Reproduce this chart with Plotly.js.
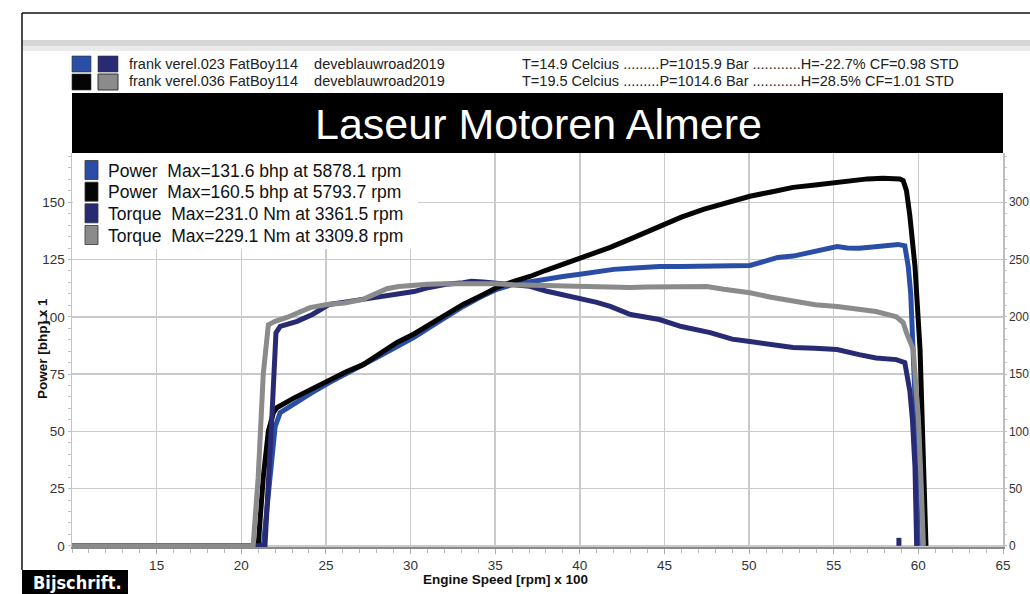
<!DOCTYPE html>
<html>
<head>
<meta charset="utf-8">
<script src="https://cdn.plot.ly/plotly-3.0.1.min.js"></script>
<style>
html,body{margin:0;padding:0;background:#fff;}
#chart{width:1030px;height:594px;}
</style>
</head>
<body>
<div id="chart"></div>
<script>
// ---------------- DATA ----------------
// Run 1 (frank verel.023) power, bhp vs rpm x 100
const rpmPower1 = [10, 21.3, 21.7, 22.0, 22.3, 23.2, 24.2, 25.2, 26.2, 27.2, 28.2, 29.2, 30.2, 31.1, 32.1, 33.1, 34.1, 35.1, 36.0, 37.05, 38.0, 39.0, 40.0, 41.0, 42.0, 43.0, 44.7, 46.0, 47.7, 49.0, 50.05, 50.8, 51.7, 52.6, 53.6, 54.4, 55.2, 55.8, 56.5, 57.3, 58.0, 58.5, 58.8, 59.2, 59.4, 59.55, 59.7, 59.8, 59.9, 60.0];
const power1    = [0, 0, 30, 52, 58.2, 62.5, 67, 71.3, 75, 79.1, 83, 87, 91, 95.3, 100, 104.5, 108.5, 112, 114, 115.4, 116.8, 117.6, 118.6, 119.8, 120.7, 121.2, 122, 122, 122, 122.2, 122.4, 124, 125.9, 126.5, 128.1, 129, 130.7, 130, 129.9, 130.5, 130.8, 131.2, 131.6, 131, 122, 110, 85, 65, 30, 0];

// Run 2 (frank verel.036) power, bhp
const rpmPower2 = [10, 21.0, 21.3, 21.6, 21.9, 22.1, 23.1, 24.2, 25.2, 26.2, 27.2, 28.2, 29.2, 30.2, 31.1, 32.1, 33.1, 34.1, 35.1, 36.1, 37.05, 38.0, 39.0, 40.0, 41.0, 41.8, 43.0, 44.7, 46.0, 47.3, 48.7, 50.05, 51.3, 52.6, 53.9, 55.2, 56.1, 57.0, 57.9, 58.5, 58.9, 59.1, 59.3, 59.5, 59.8, 60.1, 60.3, 60.45];
const power2    = [0, 0, 30, 50, 58.2, 60.3, 64.5, 68.5, 72.6, 76, 79.1, 84, 88.8, 92.5, 96.6, 101, 105.4, 109, 112.8, 115.5, 117.6, 120.3, 122.9, 125.5, 128.1, 130.3, 134, 139.5, 143.5, 146.9, 150, 152.6, 154.5, 156.5, 157.5, 158.7, 159.8, 160.2, 160.5, 160.4, 160.2, 159.5, 155, 143.9, 122, 85.7, 42, 0];

// Run 1 torque, Nm
const rpmTorque1 = [10, 21.4, 21.8, 22.05, 22.3, 23.3, 24.2, 25.2, 26.2, 27.2, 28.2, 29.2, 30.2, 31.1, 32.1, 33.1, 33.6, 34.3, 35.1, 36.0, 37.05, 38.0, 39.0, 40.0, 41.0, 41.8, 43.0, 44.7, 46.0, 47.7, 49.0, 50.05, 51.3, 52.6, 53.9, 55.2, 56.5, 57.5, 58.7, 59.2, 59.5, 59.65, 59.8, 59.9];
const torque1    = [0, 0, 110, 186, 191.6, 196, 202, 210.8, 213, 215.2, 217, 219.4, 222, 225.6, 228.4, 229.8, 231.0, 230.4, 229.5, 228, 226.6, 222.5, 219.4, 215.5, 212.6, 209, 202, 197.6, 191.5, 186.2, 180.5, 178.4, 175.5, 173.2, 172.5, 171.4, 167, 164, 162.6, 160, 135, 110, 69, 0];
// small stray piece of run 1 torque near the end of the run
const rpmTorque1Tail = [58.85, 58.85];
const torque1Tail    = [0, 7];

// Run 2 torque, Nm
const rpmTorque2 = [10, 20.7, 21.0, 21.3, 21.6, 22.0, 22.7, 23.4, 24.06, 25.06, 26.1, 27.2, 28.0, 28.6, 29.3, 29.96, 31.0, 32.0, 33.1, 34.0, 35.0, 36.05, 37.0, 38.0, 39.0, 40.0, 41.0, 42.0, 42.96, 44.0, 45.0, 46.0, 47.5, 48.5, 50.05, 51.3, 52.6, 53.9, 55.2, 56.3, 57.5, 58.7, 59.1, 59.3, 59.7, 59.85, 60.0, 60.15, 60.3];
const torque2    = [0, 0, 60, 150, 193, 196, 199.4, 204, 208, 210.8, 212, 215.2, 220, 224.5, 226.5, 227.5, 228.4, 228.8, 229.1, 229, 228.8, 228, 227.6, 227, 226.6, 226.2, 226, 225.4, 225.6, 226, 226.4, 226.6, 226.4, 224, 221, 217, 213.4, 210.5, 209, 207, 204.6, 200, 195, 186, 171.4, 140, 112, 60, 0];

// Tick labels
const xTickVals  = [15, 20, 25, 30, 35, 40, 45, 50, 55, 60, 65];
const yTickVals  = [0, 25, 50, 75, 100, 125, 150];
const y2TickVals = [0, 50, 100, 150, 200, 250, 300];

// Texts
const chartTitle = "Laseur Motoren Almere";
const runNames = ["frank verel.023 FatBoy114\u00a0\u00a0\u00a0\u00a0deveblauwroad2019",
                  "frank verel.036 FatBoy114\u00a0\u00a0\u00a0\u00a0deveblauwroad2019"];
const runConditions = ["T=14.9 Celcius .........P=1015.9 Bar ............H=-22.7% CF=0.98 STD",
                       "T=19.5 Celcius .........P=1014.6 Bar ............H=28.5% CF=1.01 STD"];
const legendLabels = ["Power\u00a0\u00a0Max=131.6 bhp at 5878.1 rpm",
                      "Power\u00a0\u00a0Max=160.5 bhp at 5793.7 rpm",
                      "Torque\u00a0\u00a0Max=231.0 Nm at 3361.5 rpm",
                      "Torque\u00a0\u00a0Max=229.1 Nm at 3309.8 rpm"];
const xTitle = "Engine Speed [rpm] x 100";
const yTitle = "Power [bhp] x 1";
const caption = "Bijschrift.";

// ---------------- STYLE ----------------
const C = {blue:'#2a4ea6', navy:'#282a74', black:'#050505', gray:'#8b8b8b'};
const legendColors = [C.blue, C.black, C.navy, C.gray];
const FONT = 'Liberation Sans, Arial, Helvetica, sans-serif';

// Page geometry (pixels) -> paper coords
const L = 72, R = 1003, T = 153, B = 547;
const px = p => (p - L) / (R - L);
const py = p => (B - p) / (B - T);

function rect(x0, y0, x1, y1, fill, layer, lineColor, lineWidth) {
  return {type:'rect', xref:'paper', yref:'paper', x0:px(x0), x1:px(x1), y0:py(y1), y1:py(y0),
          fillcolor:fill, line:{color:lineColor||fill, width:lineWidth||0}, layer:layer||'above'};
}
function line(x0, y0, x1, y1, color, width) {
  return {type:'line', xref:'paper', yref:'paper', x0:px(x0), x1:px(x1), y0:py(y0), y1:py(y1),
          line:{color:color, width:width}, layer:'above'};
}
function text(t, x, y, opts) {
  return Object.assign({text:t, xref:'paper', yref:'paper', x:px(x), y:py(y), showarrow:false,
          xanchor:'left', yanchor:'middle', font:{family:FONT, size:14.5, color:'#222'}}, opts||{});
}

const shapes = [
  line(22, 13, 1030, 13, '#111', 1.5),
  line(22, 13, 22, 570, '#111', 1.5),
  rect(22, 40, 1030, 46, '#d6d6d6', 'below'),
  rect(22, 46, 1030, 51, '#eaeaea', 'below'),
  // run swatches
  rect(72, 56, 91, 72, C.blue, 'above', '#333', 0.6),
  rect(98, 56, 118, 72, C.navy, 'above', '#333', 0.6),
  rect(72, 74, 91, 90, C.black, 'above', '#333', 0.6),
  rect(98, 74, 118, 90, C.gray, 'above', '#333', 1),
  // title bar
  rect(L, 93, R, T, '#000', 'below'),
  // legend box
  rect(L + 1, T, 418, 249, '#ffffff', 'above'),
  // caption box
  rect(22, 570, 128, 594, '#000', 'above')
];
const legendRowY = [170, 191.7, 213.3, 235];
legendLabels.forEach((s, i) => {
  shapes.push(rect(85, legendRowY[i] - 9.5, 98, legendRowY[i] + 9.5, legendColors[i], 'above', '#333', 0.8));
});

const annotations = [
  text(runNames[0], 127, 64),
  text(runNames[1], 127, 81.5),
  text(runConditions[0], 520, 64),
  text(runConditions[1], 520, 81.5),
  text(chartTitle, 538.5, 124, {xanchor:'center', font:{family:FONT, size:43, color:'#ffffff'}}),
  text(yTitle, 42, 349, {xanchor:'center', textangle:-90, font:{family:FONT, size:13.5, color:'#111', weight:'bold'}}),
  text(xTitle, 505, 579, {xanchor:'center', font:{family:FONT, size:13.5, color:'#111', weight:'bold'}}),
  text(caption, 77, 582, {xanchor:'center', font:{family:'Liberation Sans Narrow, DejaVu Sans Condensed, Arial Narrow, sans-serif', size:18, color:'#ffffff', weight:'bold'}})
];
legendLabels.forEach((s, i) => {
  annotations.push(text(s, 106, legendRowY[i] + 0.5, {font:{family:FONT, size:17.5, color:'#111'}}));
});

function lineTrace(x, y, color, axis) {
  return {x:x, y:y, yaxis:axis, type:'scatter', mode:'lines', hoverinfo:'skip', showlegend:false,
          line:{color:color, width:5, shape:'linear'}};
}
const traces = [
  lineTrace(rpmPower1, power1, C.blue, 'y'),
  lineTrace(rpmPower2, power2, C.black, 'y'),
  lineTrace(rpmTorque1, torque1, C.navy, 'y2'),
  lineTrace(rpmTorque1Tail, torque1Tail, C.navy, 'y2'),
  lineTrace(rpmTorque2, torque2, C.gray, 'y2')
];

const tickFont = {family:FONT, size:13.5, color:'#333'};
const layout = {
  width:1030, height:594,
  margin:{l:L, r:1030 - R, t:T, b:594 - B, pad:0},
  paper_bgcolor:'#ffffff', plot_bgcolor:'#ffffff',
  showlegend:false,
  xaxis:{range:[10, 65], tickmode:'array', tickvals:xTickVals, ticktext:xTickVals.map(String),
         showgrid:true, gridcolor:'#cacaca', gridwidth:1.5, zeroline:false,
         showline:true, linecolor:'#8a8a8a', linewidth:2, ticks:'outside', ticklen:5, tickcolor:'#aaa',
         minor:{tickmode:'linear', tick0:0, dtick:1, ticks:'outside', ticklen:4, tickcolor:'#bbb', showgrid:false},
         tickfont:tickFont, fixedrange:true},
  yaxis:{range:[-0.5, 171.5], tickmode:'array', tickvals:yTickVals, ticktext:yTickVals.map(String),
         showgrid:true, gridcolor:'#cacaca', gridwidth:1.5, zeroline:false,
         showline:true, linecolor:'#c4c4c4', linewidth:1.5, ticks:'outside', ticklen:3, tickcolor:'#bbb',
         minor:{tickmode:'linear', tick0:0, dtick:5, ticks:'outside', ticklen:3, tickcolor:'#c4c4c4', showgrid:false},
         tickfont:tickFont, fixedrange:true},
  yaxis2:{range:[-1, 343], overlaying:'y', side:'right', tickmode:'array', tickvals:y2TickVals, ticktext:y2TickVals.map(String),
          showgrid:false, zeroline:false, showline:true, linecolor:'#bdbdbd', linewidth:1.5,
          ticks:'outside', ticklen:2, tickcolor:'#bbb',
          minor:{tickmode:'linear', tick0:0, dtick:10, ticks:'outside', ticklen:2, tickcolor:'#c4c4c4', showgrid:false},
          tickfont:{family:FONT, size:12, color:'#333'}, fixedrange:true},
  shapes:shapes,
  annotations:annotations
};

Plotly.newPlot('chart', traces, layout, {displayModeBar:false, staticPlot:true});
</script>
</body>
</html>
